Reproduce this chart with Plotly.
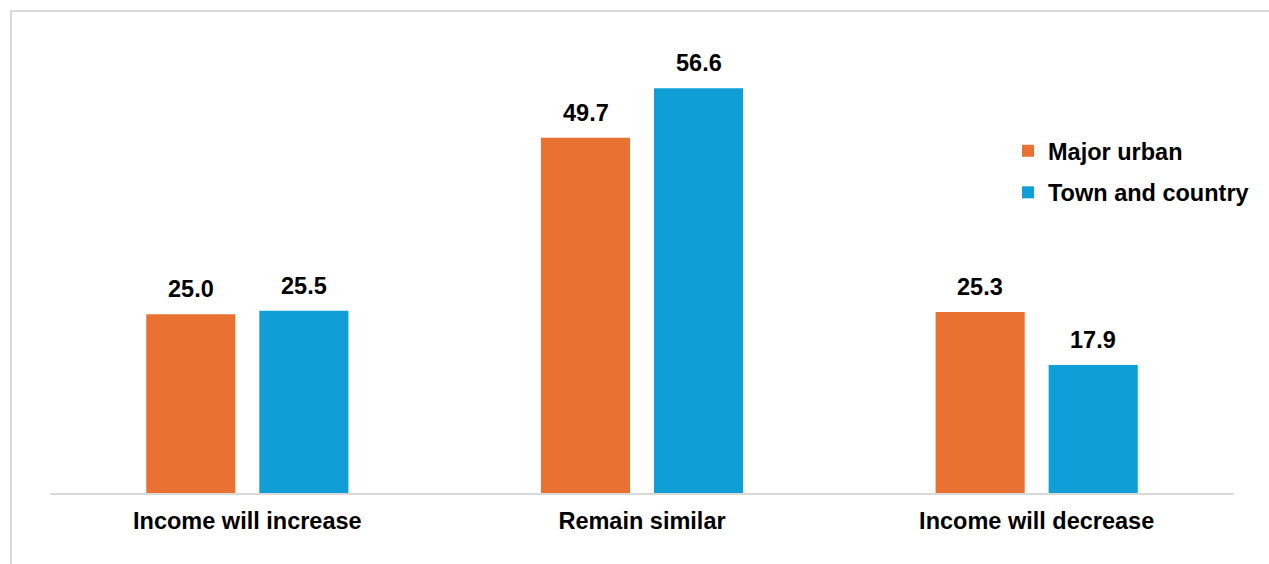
import plotly.graph_objects as go

categories = ["Income will increase", "Remain similar", "Income will decrease"]
major_urban = [25.0, 49.7, 25.3]
town_country = [25.5, 56.6, 17.9]
series_names = ["Major urban", "Town and country"]
colors = ["#E97132", "#0F9ED5"]

W, H = 1269, 564
L, R, T, B = 50, 35, 64, 71
FONT = "Liberation Sans, Arial, sans-serif"
FS = 23.5

fig = go.Figure()
for i, (name, vals) in enumerate(zip(series_names, [major_urban, town_country])):
    fig.add_trace(go.Bar(
        x=categories, y=vals, name=f"<b>{name}</b>", marker_color=colors[i],
        marker_line_width=0, legendgroup=name,
    ))

# value labels
for i, vals in enumerate([major_urban, town_country]):
    shift = -56.5 if i == 0 else 56.5
    for c, v in zip(categories, vals):
        fig.add_annotation(
            x=c, y=v, xref="x", yref="y", text=f"<b>{v:.1f}</b>",
            showarrow=False, xshift=shift, yshift=10, yanchor="bottom",
            font=dict(family=FONT, size=FS, color="#000000"),
        )

pw = W - L - R
ph = H - T - B
def px_x(p):
    return (p - L) / pw
def px_y(p):
    return (H - B - p) / ph

# frame lines (top and left)
fig.add_shape(type="line", xref="paper", yref="paper",
              x0=px_x(10), x1=px_x(1275), y0=px_y(11), y1=px_y(11),
              line=dict(color="#D9D9D9", width=2))
fig.add_shape(type="line", xref="paper", yref="paper",
              x0=px_x(11), x1=px_x(11), y0=px_y(10), y1=px_y(570),
              line=dict(color="#D9D9D9", width=2))

fig.update_layout(
    width=W, height=H,
    margin=dict(l=L, r=R, t=T, b=B),
    paper_bgcolor="white", plot_bgcolor="white",
    barmode="group", bargap=0.427, bargroupgap=0.212,
    font=dict(family=FONT, size=FS, color="#000000"),
    showlegend=True,
    legend=dict(
        x=px_x(1008), y=px_y(129), xanchor="left", yanchor="top",
        bgcolor="rgba(0,0,0,0)", traceorder="grouped", tracegroupgap=8,
        font=dict(family=FONT, size=FS, color="#000000"),
        itemclick=False,
    ),
    xaxis=dict(
        showgrid=False, zeroline=False, showline=True,
        linecolor="#D9D9D9", linewidth=2, ticks="",
        tickfont=dict(family=FONT, size=FS, color="#000000"),
        tickvals=categories,
        ticktext=[f"<b>{c}</b>" for c in categories],
        ticklabelstandoff=6,
    ),
    yaxis=dict(range=[0, 60], visible=False, showgrid=False, zeroline=False),
)

fig.write_html("out.html")
